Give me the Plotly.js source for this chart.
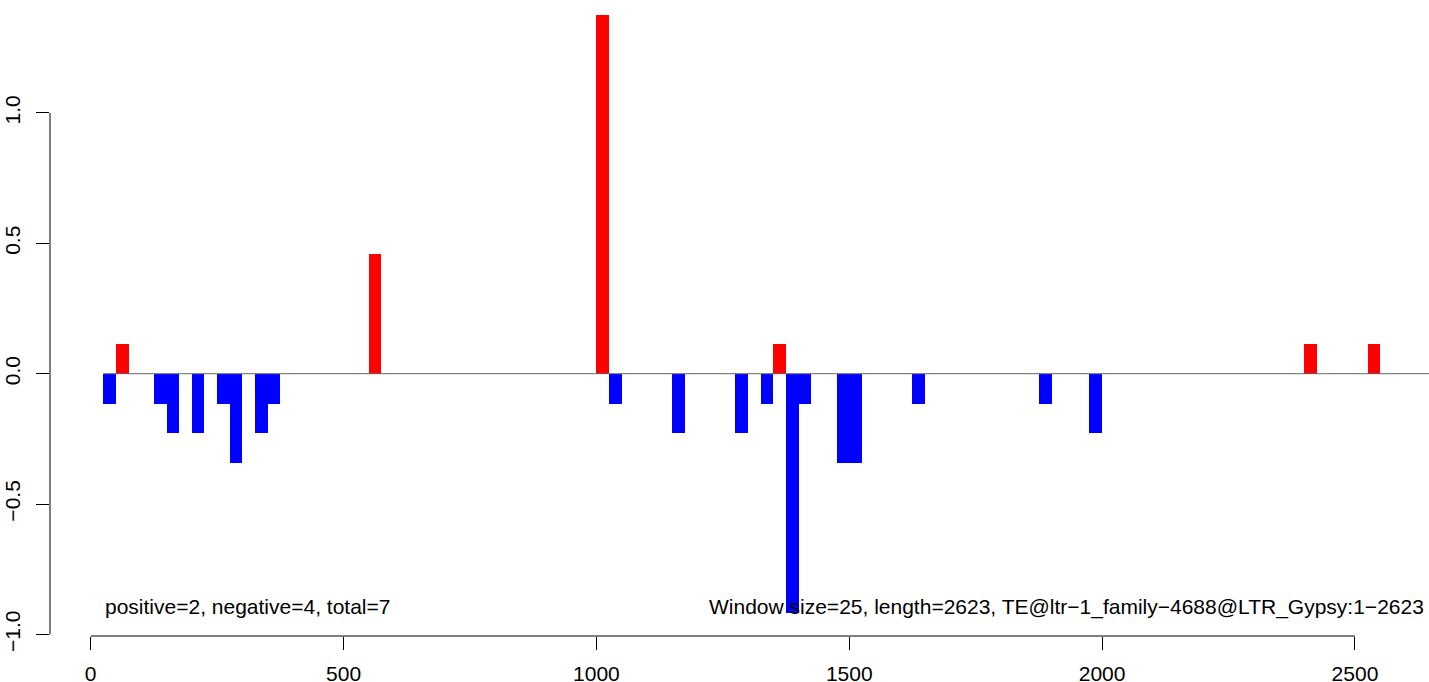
<!DOCTYPE html>
<html>
<head>
<meta charset="utf-8">
<script src="https://cdn.plot.ly/plotly-3.0.1.min.js"></script>
<style>html,body{margin:0;padding:0;background:#fff;}#chart{width:1429px;height:682px;}</style>
</head>
<body>
<div id="chart"></div>
<script>
// window start positions (window size 25)
const windowStarts = [25, 50, 125, 150, 200, 250, 275, 325, 350, 550, 1000, 1025, 1150, 1275, 1325, 1350, 1375, 1400, 1475, 1500, 1625, 1875, 1975, 2400, 2525];
// value of each window
const windowValues = [-0.115, 0.115, -0.115, -0.229, -0.229, -0.115, -0.344, -0.229, -0.115, 0.459, 1.376, -0.115, -0.229, -0.229, -0.115, 0.115, -0.917, -0.115, -0.344, -0.344, -0.115, -0.115, -0.229, 0.115, 0.115];
const windowSize = 25;
const seqLength = 2623;
const xTickVals = [0, 500, 1000, 1500, 2000, 2500];
const xTickText = ["0", "500", "1000", "1500", "2000", "2500"];
const yTickVals = [-1, -0.5, 0, 0.5, 1];
const yTickText = ["\u22121.0", "\u22120.5", "0.0", "0.5", "1.0"];
const leftNote = "positive=2, negative=4, total=7";
const rightNote = "Window size=25, length=2623, TE@ltr\u22121_family\u22124688@LTR_Gypsy:1\u22122623";

const colors = windowValues.map(v => v >= 0 ? "#FF0000" : "#0000FF");
const font = {family: "Liberation Sans, Arial, sans-serif", size: 21, color: "#000"};

const trace = {
  type: "bar",
  x: windowStarts,
  y: windowValues,
  width: windowSize,
  offset: 0,
  marker: {color: colors, line: {width: 0}},
  hoverinfo: "x+y"
};

const layout = {
  width: 1429, height: 682,
  margin: {l: 50, r: 0, t: 0, b: 46, pad: 0},
  paper_bgcolor: "#fff", plot_bgcolor: "#fff",
  showlegend: false,
  bargap: 0,
  font: font,
  xaxis: {
    range: [-80.5, 2646.4], showgrid: false, zeroline: false, showline: false,
    tickmode: "array", tickvals: xTickVals, ticktext: xTickText,
    ticks: "outside", ticklen: 13, tickwidth: 1, tickcolor: "#000",
    tickfont: font, ticklabelstandoff: 6
  },
  yaxis: {
    range: [-1.0061, 1.4334], showgrid: false, zeroline: false, showline: false,
    tickmode: "array", tickvals: yTickVals, ticktext: yTickText,
    ticks: "outside", ticklen: 13, tickwidth: 1, tickcolor: "#000",
    tickangle: -90, tickfont: font, ticklabelstandoff: 8
  },
  shapes: [
    {type: "line", xref: "paper", yref: "y", x0: 0, x1: 0, y0: yTickVals[0], y1: yTickVals[yTickVals.length - 1], line: {color: "#000", width: 1}},
    {type: "line", xref: "x", yref: "paper", x0: xTickVals[0], x1: xTickVals[xTickVals.length - 1], y0: 0, y1: 0, line: {color: "#000", width: 1}},
    {type: "line", xref: "x", yref: "y", x0: windowStarts[0], x1: 2660, y0: 0, y1: 0, line: {color: "#666666", width: 1}}
  ],
  annotations: [
    {xref: "x", yref: "y", x: 25, y: -0.893, xanchor: "left", yanchor: "middle", text: leftNote, showarrow: false, font: font},
    {xref: "x", yref: "y", x: 1219, y: -0.893, xanchor: "left", yanchor: "middle", text: rightNote, showarrow: false, font: font}
  ]
};

Plotly.newPlot("chart", [trace], layout, {displayModeBar: false, staticPlot: true});
</script>
</body>
</html>
